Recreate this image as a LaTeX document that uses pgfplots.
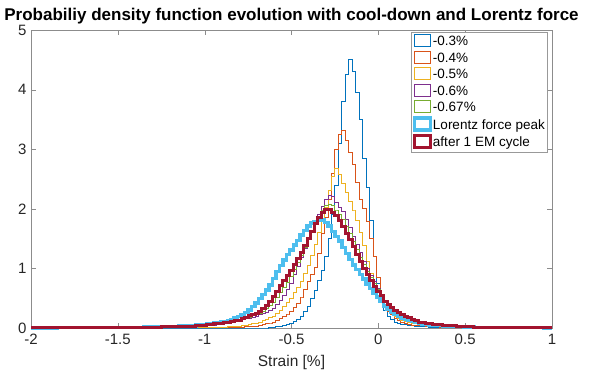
\documentclass[border=0pt]{standalone}
\usepackage{fontspec}
\setmainfont{Liberation Sans}
\usepackage{pgfplots}
\usepackage{pgfplotstable}
\pgfplotsset{compat=1.18}
\definecolor{mb}{rgb}{0,0.447,0.741}
\definecolor{mo}{rgb}{0.85,0.325,0.098}
\definecolor{my}{rgb}{0.929,0.694,0.125}
\definecolor{mp}{rgb}{0.494,0.184,0.556}
\definecolor{mg}{rgb}{0.466,0.674,0.188}
\definecolor{ml}{rgb}{0.301,0.745,0.933}
\definecolor{mr}{rgb}{0.635,0.078,0.184}
\pgfplotstableread{
x b o y p g L r
-2.0 0 0 0 0 0 0.002 0.002
-1.9 0 0 0 0.001 0.001 0.003 0.003
-1.8 0 0 0 0.002 0.002 0.004 0.004
-1.7 0 0 0.001 0.003 0.003 0.005 0.005
-1.6 0 0 0.001 0.004 0.004 0.007 0.006
-1.5 0 0 0.002 0.005 0.005 0.009 0.008
-1.4 0 0.001 0.003 0.007 0.007 0.012 0.011
-1.3 0 0.002 0.004 0.01 0.01 0.016 0.014
-1.2 0 0.003 0.005 0.014 0.014 0.022 0.02
-1.1 0 0.004 0.006 0.02 0.025 0.035 0.03
-1.00 0 0.006 0.006 0.03 0.04 0.06 0.05
-0.98 0 0.006 0.006 0.036 0.046 0.068 0.056
-0.96 0 0.007 0.007 0.042 0.052 0.075 0.062
-0.94 0 0.007 0.008 0.048 0.058 0.083 0.068
-0.92 0 0.008 0.009 0.054 0.064 0.09 0.074
-0.90 0 0.008 0.01 0.06 0.07 0.1 0.08
-0.88 0 0.009 0.014 0.072 0.081 0.11 0.09
-0.86 0 0.009 0.018 0.084 0.092 0.125 0.1
-0.84 0 0.01 0.022 0.096 0.103 0.14 0.11
-0.82 0 0.01 0.026 0.108 0.114 0.165 0.12
-0.80 0 0.01 0.03 0.12 0.125 0.19 0.13
-0.78 0 0.014 0.04 0.136 0.145 0.22 0.154
-0.76 0 0.018 0.05 0.152 0.165 0.26 0.178
-0.74 0 0.022 0.06 0.168 0.185 0.3 0.202
-0.72 0 0.026 0.07 0.184 0.205 0.36 0.226
-0.70 0 0.03 0.08 0.2 0.225 0.42 0.25
-0.68 0 0.042 0.1 0.22 0.25 0.49 0.285
-0.66 0 0.054 0.12 0.24 0.28 0.56 0.32
-0.64 0 0.068 0.144 0.266 0.325 0.64 0.385
-0.62 0.003 0.084 0.172 0.298 0.375 0.72 0.45
-0.60 0.01 0.1 0.2 0.33 0.43 0.83 0.535
-0.58 0.018 0.128 0.25 0.4 0.51 0.95 0.62
-0.56 0.026 0.156 0.3 0.47 0.59 1.05 0.71
-0.54 0.04 0.19 0.36 0.55 0.675 1.14 0.8
-0.52 0.06 0.235 0.43 0.65 0.77 1.23 0.885
-0.50 0.08 0.28 0.5 0.75 0.86 1.31 0.97
-0.48 0.115 0.34 0.59 0.9 0.985 1.39 1.07
-0.46 0.15 0.41 0.68 1.04 1.1 1.47 1.17
-0.44 0.2 0.52 0.78 1.18 1.22 1.56 1.27
-0.42 0.27 0.65 0.91 1.33 1.35 1.64 1.38
-0.40 0.36 0.78 1.05 1.48 1.49 1.71 1.5
-0.38 0.49 0.9 1.22 1.63 1.62 1.76 1.62
-0.36 0.63 1.02 1.4 1.78 1.76 1.79 1.75
-0.34 0.8 1.25 1.6 1.91 1.88 1.8 1.85
-0.32 0.97 1.58 1.8 2.04 1.98 1.81 1.93
-0.30 1.2 1.85 2.02 2.15 2.05 1.77 1.98
-0.28 1.5 2.15 2.3 2.22 2.08 1.71 1.99
-0.26 1.9 2.6 2.55 2.2 2.05 1.62 1.94
-0.24 2.4 3.0 2.68 2.1 1.98 1.54 1.88
-0.22 3.1 3.25 2.58 2.02 1.9 1.46 1.8
-0.20 3.8 3.32 2.42 1.95 1.82 1.35 1.7
-0.18 4.25 3.15 2.28 1.82 1.7 1.25 1.59
-0.16 4.5 2.95 2.12 1.68 1.58 1.15 1.48
-0.14 4.3 2.75 1.98 1.54 1.45 1.06 1.36
-0.12 3.95 2.45 1.8 1.4 1.32 0.98 1.24
-0.10 3.5 2.15 1.6 1.26 1.19 0.9 1.12
-0.08 2.85 2.0 1.38 1.12 1.06 0.82 1.0
-0.06 2.35 1.78 1.12 1.0 0.95 0.74 0.9
-0.04 1.8 1.5 0.92 0.89 0.84 0.66 0.8
-0.02 1.2 1.2 0.78 0.78 0.74 0.59 0.7
0.00 0.75 0.85 0.62 0.67 0.64 0.52 0.62
0.02 0.45 0.55 0.48 0.56 0.55 0.45 0.54
0.04 0.3 0.38 0.37 0.45 0.45 0.37 0.45
0.06 0.2 0.28 0.3 0.37 0.38 0.31 0.39
0.08 0.14 0.22 0.24 0.3 0.32 0.26 0.34
0.10 0.1 0.16 0.2 0.25 0.27 0.225 0.3
0.12 0.08 0.13 0.16 0.21 0.23 0.19 0.26
0.14 0.06 0.1 0.135 0.18 0.2 0.17 0.22
0.16 0.052 0.082 0.11 0.15 0.17 0.15 0.195
0.18 0.043 0.066 0.095 0.13 0.15 0.13 0.17
0.20 0.035 0.05 0.08 0.11 0.128 0.113 0.145
0.22 0.031 0.045 0.072 0.1 0.11 0.097 0.12
0.24 0.027 0.04 0.064 0.086 0.093 0.08 0.1
0.26 0.023 0.035 0.056 0.074 0.082 0.07 0.09
0.28 0.019 0.03 0.048 0.062 0.071 0.06 0.08
0.30 0.015 0.025 0.04 0.05 0.06 0.05 0.07
0.32 0.014 0.022 0.036 0.045 0.055 0.046 0.065
0.34 0.012 0.02 0.032 0.04 0.05 0.042 0.059
0.36 0.011 0.017 0.028 0.035 0.045 0.038 0.054
0.38 0.01 0.015 0.024 0.03 0.039 0.034 0.048
0.40 0.008 0.012 0.02 0.025 0.034 0.03 0.043
0.42 0.0075 0.011 0.018 0.023 0.03 0.028 0.038
0.44 0.007 0.01 0.017 0.021 0.028 0.026 0.035
0.46 0.0065 0.009 0.015 0.019 0.025 0.024 0.032
0.48 0.006 0.008 0.014 0.017 0.022 0.022 0.028
0.50 0.006 0.007 0.012 0.016 0.02 0.02 0.025
0.6 0.003 0.004 0.006 0.008 0.011 0.012 0.015
0.7 0.002 0.003 0.004 0.005 0.008 0.008 0.011
0.8 0.001 0.002 0.003 0.003 0.005 0.005 0.008
0.9 0.001 0.001 0.002 0.002 0.004 0.004 0.006
1.0 0 0.001 0.001 0.001 0.003 0.003 0.005
}\pdf
\begin{document}
\begin{tikzpicture}
\useasboundingbox (-31bp,-47bp) rectangle (561bp,328bp);
\begin{axis}[
  scale only axis, width=521bp, height=298bp,
  xmin=-2, xmax=1, ymin=0, ymax=5,
  clip=false,
  xtick={-2,-1.5,-1,-0.5,0,0.5,1},
  xticklabels={-2,-1.5,-1,-0.5,0,0.5,1},
  ytick={0,1,2,3,4,5},
  yticklabels={0,1,2,3,4,5},
  axis line style={black!45},
  tick style={black!45},
  major tick length=5bp,
  tick label style={font=\fontsize{15bp}{17bp}\selectfont, text=black!85},
  xticklabel style={yshift=-3bp},
  yticklabel style={xshift=-1bp},
  title={Probabiliy density function evolution with cool-down and Lorentz force},
  title style={font=\bfseries\fontsize{17bp}{19bp}\selectfont, yshift=-4bp},
  xlabel={Strain [\%]},
  xlabel style={font=\fontsize{15.5bp}{18bp}\selectfont, text=black!85, yshift=-3bp},
  legend style={draw=black!40, fill=white, at={(1,1)}, anchor=north east,
    xshift=-5bp, yshift=-2bp, font=\fontsize{13.5bp}{15bp}\selectfont,
    inner xsep=1bp, inner ysep=2bp, row sep=1bp,
    nodes={inner xsep=1bp, inner ysep=1bp, text height=10bp, text depth=3bp}},
  legend cell align=left,
  legend image code/.code={\draw[#1] (0bp,-4.5bp) rectangle (16bp,7.5bp);},
  every axis plot/.append style={const plot mark mid, line join=miter},
]
\addplot[mb, line width=0.9bp] table[x=x,y=b] {\pdf};
\addplot[mo, line width=0.9bp] table[x=x,y=o] {\pdf};
\addplot[my, line width=0.9bp] table[x=x,y=y] {\pdf};
\addplot[mp, line width=0.9bp] table[x=x,y=p] {\pdf};
\addplot[mg, line width=0.9bp] table[x=x,y=g] {\pdf};
\addplot[ml, line width=3.4bp] table[x=x,y=L] {\pdf};
\addplot[mr, line width=3bp] table[x=x,y=r] {\pdf};
\legend{-0.3\%,-0.4\%,-0.5\%,-0.6\%,-0.67\%,Lorentz force peak,after 1 EM cycle}
\end{axis}
\end{tikzpicture}
\end{document}
